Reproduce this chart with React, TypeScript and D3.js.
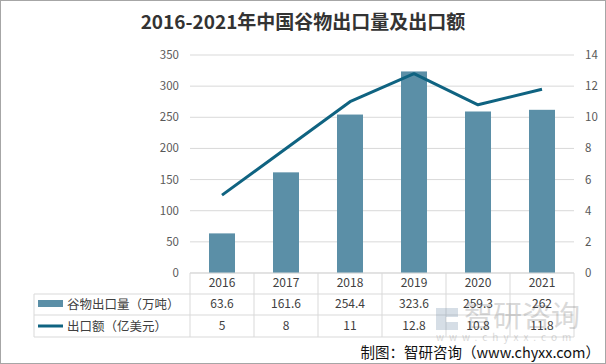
import React from "react";
import * as d3 from "d3";

const years = ["2016", "2017", "2018", "2019", "2020", "2021"];
const volume = [63.6, 161.6, 254.4, 323.6, 259.3, 262];
const exportValue = [5, 8, 11, 12.8, 10.8, 11.8];
const volumeLabels = ["63.6", "161.6", "254.4", "323.6", "259.3", "262"];
const valueLabels = ["5", "8", "11", "12.8", "10.8", "11.8"];
const leftTicks = [0, 50, 100, 150, 200, 250, 300, 350];
const rightTicks = [0, 2, 4, 6, 8, 10, 12, 14];

const W = 606;
const H = 364;
const plot = { left: 190, right: 574, top: 55, bottom: 273 };
const FONT = "'Noto Sans CJK SC', 'Noto Sans', sans-serif";
const BAR = "#5b8fa7";
const LINE = "#0f6381";

export default function App() {
  const x = d3.scaleBand<string>().domain(years).range([plot.left, plot.right]);
  const yL = d3.scaleLinear().domain([0, 350]).range([plot.bottom, plot.top]);
  const yR = d3.scaleLinear().domain([0, 14]).range([plot.bottom, plot.top]);
  const barW = 26;
  const cx = (y: string) => (x(y) ?? 0) + x.bandwidth() / 2;

  const line = d3
    .line<number>()
    .x((_, i) => cx(years[i]))
    .y((d) => yR(d));

  const rowY = [283, 304, 326];
  const tableTop = 294;
  const tableMid = 315;
  const tableBot = 337;

  return (
    <svg
      width={W}
      height={H}
      style={{ position: "absolute", left: 0, top: 0, background: "#fff" }}
      fontFamily={FONT}
    >
      <rect x={0.5} y={0.5} width={W - 1} height={H - 1} fill="#fff" stroke="#a6a6a6" />

      {/* title */}
      <text x={W / 2} y={29} textAnchor="middle" fontSize={19} fontWeight="bold" fill="#333">
        2016-2021年中国谷物出口量及出口额
      </text>

      {/* gridlines */}
      {leftTicks.map((t) => (
        <line key={t} x1={plot.left} x2={plot.right} y1={yL(t)} y2={yL(t)} stroke="#d9d9d9" />
      ))}

      {/* left axis labels */}
      {leftTicks.map((t) => (
        <text key={t} x={179} y={yL(t) + 4} textAnchor="end" fontSize={11.5} fill="#595959">
          {t}
        </text>
      ))}
      {/* right axis labels */}
      {rightTicks.map((t) => (
        <text key={t} x={585} y={yR(t) + 4} textAnchor="start" fontSize={11.5} fill="#595959">
          {t}
        </text>
      ))}

      {/* bars */}
      {years.map((y, i) => (
        <rect
          key={y}
          x={cx(y) - barW / 2}
          y={yL(volume[i])}
          width={barW}
          height={plot.bottom - yL(volume[i])}
          fill={BAR}
        />
      ))}

      {/* line */}
      <path d={line(exportValue) ?? ""} fill="none" stroke={LINE} strokeWidth={3} strokeLinejoin="round" />

      {/* data table */}
      <g stroke="#d9d9d9" fill="none">
        <line x1={plot.left} x2={plot.right} y1={plot.bottom} y2={plot.bottom} />
        <line x1={34} x2={plot.right} y1={tableTop} y2={tableTop} />
        <line x1={34} x2={plot.right} y1={tableMid} y2={tableMid} />
        <line x1={34} x2={plot.right} y1={tableBot} y2={tableBot} />
        <line x1={34} x2={34} y1={tableTop} y2={tableBot} />
        {years.map((y) => (
          <line key={y} x1={x(y)} x2={x(y)} y1={plot.bottom} y2={tableBot} />
        ))}
        <line x1={plot.right} x2={plot.right} y1={plot.bottom} y2={tableBot} />
      </g>

      {/* watermark */}
      <g opacity={0.25}>
        <path d="M436,308 h22 v9 h-12 v5 h12 v8 h-22 z" fill="#5f7f9f" />
        <text x={464} y={327} fontSize={29} fill="#6b6b6b">智研咨询</text>
        <text x={436} y={341} fontSize={10} letterSpacing={5} fill="#6b6b6b">www.chyxx.com</text>
      </g>

      {years.map((y, i) => (
        <g key={y} fontSize={12} fill="#404040" textAnchor="middle">
          <text x={cx(y)} y={rowY[0] + 4}>{y}</text>
          <text x={cx(y)} y={rowY[1] + 4}>{volumeLabels[i]}</text>
          <text x={cx(y)} y={rowY[2] + 4}>{valueLabels[i]}</text>
        </g>
      ))}

      {/* legend keys */}
      <rect x={38} y={300} width={25} height={7} fill={BAR} />
      <text x={67} y={309} fontSize={12.5} fill="#404040">谷物出口量（万吨）</text>
      <line x1={38} x2={63} y1={326} y2={326} stroke={LINE} strokeWidth={3} />
      <text x={67} y={331} fontSize={12.5} fill="#404040">出口额（亿美元）</text>

      {/* source */}
      <text x={600} y={358} textAnchor="end" fontSize={14.5} fill="#111">
        制图：智研咨询（www.chyxx.com）
      </text>
    </svg>
  );
}
